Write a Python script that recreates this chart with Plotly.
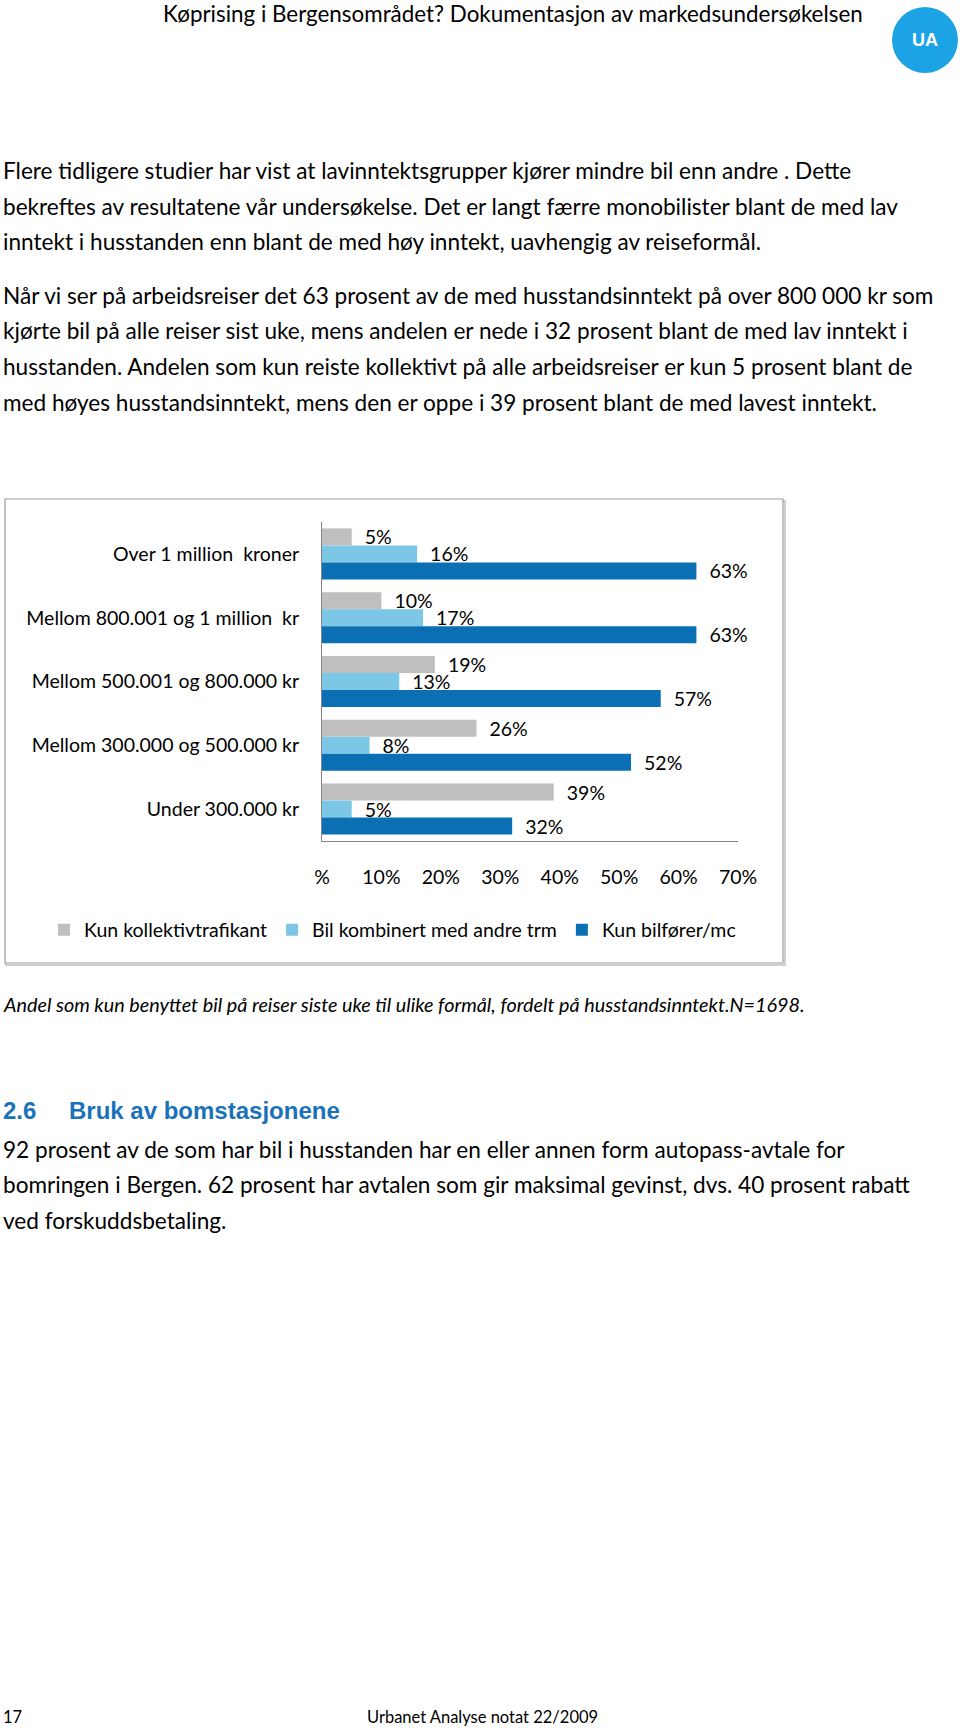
import plotly.graph_objects as go

W, H = 960, 1730

categories = [
    "Over 1 million  kroner",
    "Mellom 800.001 og 1 million  kr",
    "Mellom 500.001 og 800.000 kr",
    "Mellom 300.000 og 500.000 kr",
    "Under 300.000 kr",
]
kun_kollektiv = [0.05, 0.10, 0.19, 0.26, 0.39]
bil_kombinert = [0.16, 0.17, 0.13, 0.08, 0.05]
kun_bil = [0.63, 0.63, 0.57, 0.52, 0.32]
series_names = ["Kun kollektivtrafikant", "Bil kombinert med andre trm", "Kun bilfører/mc"]
series_colors = ["#bfbfbf", "#7cc6e6", "#0b6fb4"]
x_tickvals = [0, 0.1, 0.2, 0.3, 0.4, 0.5, 0.6, 0.7]
x_ticktext = ["%", "10%", "20%", "30%", "40%", "50%", "60%", "70%"]

header = "Køprising i Bergensområdet? Dokumentasjon av markedsundersøkelsen"
para1 = [
    "Flere tidligere studier har vist at lavinntektsgrupper kjører mindre bil enn andre . Dette",
    "bekreftes av resultatene vår undersøkelse. Det er langt færre monobilister blant de med lav",
    "inntekt i husstanden enn blant de med høy inntekt, uavhengig av reiseformål.",
]
para2 = [
    "Når vi ser på arbeidsreiser det 63 prosent av de med husstandsinntekt på over 800 000 kr som",
    "kjørte bil på alle reiser sist uke, mens andelen er nede i 32 prosent blant de med lav inntekt i",
    "husstanden. Andelen som kun reiste kollektivt på alle arbeidsreiser er kun 5 prosent blant de",
    "med høyes husstandsinntekt, mens den er oppe i 39 prosent blant de med lavest inntekt.",
]
caption = "Andel som kun benyttet bil på reiser siste uke til ulike formål, fordelt på husstandsinntekt.N=1698."
para3 = [
    "92 prosent av de som har bil i husstanden har en eller annen form autopass-avtale for",
    "bomringen i Bergen. 62 prosent har avtalen som gir maksimal gevinst, dvs. 40 prosent rabatt",
    "ved forskuddsbetaling.",
]

FONT = "Lato, Carlito, Calibri, sans-serif"
ARIAL = "Arial, Liberation Sans, sans-serif"
NBSP = "\u00a0"
CHART_FS = 19.5
BODY_FS = 22.6


def px(x):
    return x / W


def py(y):
    return 1 - y / H


fig = go.Figure()
for name, vals, color in zip(series_names, [kun_kollektiv, bil_kombinert, kun_bil], series_colors):
    fig.add_trace(go.Bar(
        y=categories,
        x=vals,
        name=name,
        orientation="h",
        marker=dict(color=color, line=dict(width=0)),
        text=[NBSP * 2 + f"{v * 100:.0f}%" for v in vals],
        textposition="outside",
        textfont=dict(family=FONT, size=CHART_FS, color="#000"),
        constraintext="none",
        cliponaxis=False,
        hoverinfo="skip",
    ))

ann = []


def text_line(s, x, y, size=BODY_FS, anchor="left", family=FONT, color="#000"):
    ann.append(dict(
        text=s, x=px(x), y=py(y), xref="paper", yref="paper",
        xanchor=anchor, yanchor="middle", showarrow=False,
        font=dict(family=family, size=size, color=color),
    ))


text_line(header, 513, 13, size=22.4, anchor="center")
text_line("<b>UA</b>", 925, 40, size=18, anchor="center", family=ARIAL, color="#fff")
for i, s in enumerate(para1):
    text_line(s, 1, 170 + 36 * i)
for i, s in enumerate(para2):
    text_line(s, 1, 295 + 35.8 * i)
text_line("<i>" + caption + "</i>", 1, 1004, size=19.8)
text_line("<b>2.6</b>", 1, 1110, size=24, family=ARIAL, color="#1a72b9")
text_line("<b>Bruk av bomstasjonene</b>", 67, 1110, size=24, family=ARIAL, color="#1a72b9")
for i, s in enumerate(para3):
    text_line(s, 1, 1149 + 35.5 * i)
text_line("17", 1, 1717, size=16.5)
text_line("Urbanet Analyse notat 22/2009", 482, 1717, size=16.5, anchor="center")

shapes = [
    dict(type="circle", xref="paper", yref="paper", x0=px(892), x1=px(958), y0=py(73), y1=py(7),
         fillcolor="#1ba3e6", line=dict(width=0), layer="below"),
    dict(type="rect", xref="paper", yref="paper", x0=px(6), x1=px(785), y0=py(965), y1=py(501),
         fillcolor="rgba(0,0,0,0)", line=dict(color="#cfcfcf", width=2), layer="below"),
    dict(type="rect", xref="paper", yref="paper", x0=px(5), x1=px(783), y0=py(963), y1=py(499),
         fillcolor="#fff", line=dict(color="#9a9a9a", width=1.2), layer="below"),
]

fig.update_layout(
    width=W, height=H,
    margin=dict(l=0, r=0, t=0, b=0, pad=0, autoexpand=False),
    paper_bgcolor="#fff", plot_bgcolor="rgba(0,0,0,0)",
    barmode="group", bargap=0.2, bargroupgap=0,
    showlegend=True,
    legend=dict(
        orientation="h", x=px(44), y=py(930), xanchor="left", yanchor="middle",
        font=dict(family=FONT, size=CHART_FS, color="#000"), bgcolor="rgba(0,0,0,0)",
        traceorder="normal",
    ),
    xaxis=dict(
        domain=[px(322), px(738)], range=[0, 0.7], tickvals=x_tickvals, ticktext=x_ticktext,
        showgrid=False, zeroline=False, showline=True, linecolor="#868686", linewidth=1,
        ticks="", ticklabelstandoff=19, tickfont=dict(family=FONT, size=CHART_FS, color="#000"),
        anchor="y", automargin=False,
    ),
    yaxis=dict(
        domain=[py(841), py(522)], autorange="reversed", categoryorder="array", categoryarray=categories,
        showgrid=False, zeroline=False, showline=True, linecolor="#868686", linewidth=1,
        ticks="", ticklabelstandoff=18, tickfont=dict(family=FONT, size=CHART_FS, color="#000"),
        anchor="x", automargin=False,
    ),
    annotations=ann,
    shapes=shapes,
)

# the page sits flush with the window, like the scanned page
fig.write_html(
    "out.html",
    config={"displayModeBar": False},
    post_script="document.body.style.margin='0';document.body.style.overflow='hidden';",
)
